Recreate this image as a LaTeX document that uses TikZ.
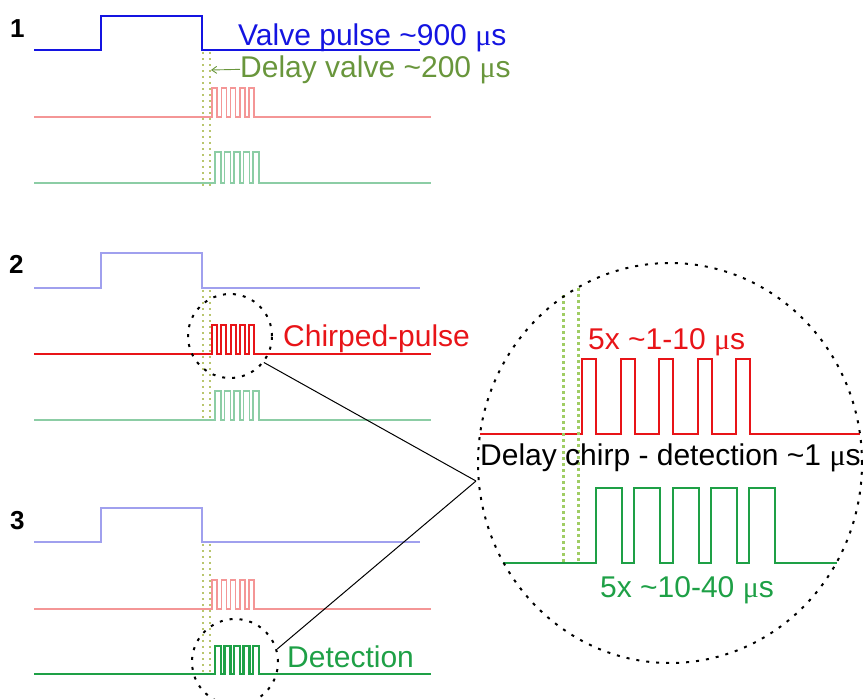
\documentclass[tikz,border=0pt]{standalone}
\usepackage{fontspec}
\setmainfont{Liberation Sans}
\newfontfamily\mufont{Liberation Serif}
\usetikzlibrary{shapes.geometric,arrows.meta}
\newcommand{\mus}{{\mufont μ}s}
\definecolor{cblue}{RGB}{20,20,225}
\definecolor{lblue}{RGB}{160,160,238}
\definecolor{cred}{RGB}{232,20,24}
\definecolor{lred}{RGB}{244,150,150}
\definecolor{cgreen}{RGB}{30,160,70}
\definecolor{lgreen}{RGB}{140,205,165}
\definecolor{colive}{RGB}{105,150,60}
\definecolor{sdot}{RGB}{185,198,110}
\definecolor{bdot}{RGB}{160,205,100}
% \wave[style]{x0}{ybase}{xstart}{height}{width}{gap}{xend}
\newcommand{\wave}[8][]{\draw[#1] (#2,#3) -- (#4,#3)
  \foreach \i in {1,...,5}{ -- ++(0,-#5) -- ++(#6,0) -- ++(0,#5) -- ++(#7,0)} -- (#8,#3);}
\tikzset{
  txt/.style={anchor=base west, inner sep=0pt, font=\fontsize{30}{32}\selectfont},
  numlab/.style={anchor=base west, inner sep=0pt, font=\fontsize{26}{28}\selectfont\bfseries},
  sblue/.style={draw=cblue, line width=2, line join=miter},
  fblue/.style={draw=lblue, line width=1.5},
  sred/.style={draw=cred, line width=2},
  fred/.style={draw=lred, line width=1.5},
  sgreen/.style={draw=cgreen, line width=2.5},
  fgreen/.style={draw=lgreen, line width=1.5},
  bred/.style={draw=cred, line width=2},
  bgreen/.style={draw=cgreen, line width=2},
  smalldots/.style={draw=sdot, line width=1.5, dash pattern=on 1.5pt off 4.5pt},
  bigdots/.style={draw=bdot, line width=3, dash pattern=on 3pt off 3pt},
  zoomc/.style={draw=black, line width=2, dash pattern=on 3pt off 7pt, inner sep=0pt},
  link/.style={draw=black, line width=1},
}
\begin{document}
\begin{tikzpicture}[x=1pt,y=-1pt]
\useasboundingbox (0,0) rectangle (863,699);
% ---------- section 1
\node[numlab] (n1) at (10,37) {1};
\draw[sblue] (34,50) -- (101,50) -- (101,16) -- (202,16) -- (202,50) -- (420,50);
\wave[fred]{34}{117}{212}{29}{5}{4.25}{431}
\wave[fgreen]{34}{183}{215}{31}{6}{3.5}{431}
\draw[smalldots] (203,52) -- (203,186);
\draw[smalldots] (210,52) -- (210,186);
\node[txt, text=cblue] (vp) at (238,45) {Valve pulse \textasciitilde900 \mus};
\node[txt, text=colive] (dv) at (240,77) {Delay valve \textasciitilde200 \mus};
\coordinate (dvtip) at (211,70);
\draw[draw=colive, line width=0.9, -{Straight Barb[length=5,width=7]}] (dv.west) -- (dvtip);
% ---------- section 2
\node[numlab] (n2) at (9,273) {2};
\draw[fblue] (34,288) -- (101,288) -- (101,253) -- (202,253) -- (202,288) -- (420,288);
\wave[sred]{34}{354}{212}{29}{5}{4.25}{431}
\wave[fgreen]{34}{420}{215}{29}{6}{3.5}{431}
\draw[smalldots] (203,290) -- (203,422);
\draw[smalldots] (210,290) -- (210,422);
\node[txt, text=cred] (cp) at (283,346) {Chirped-pulse};
\node[zoomc, circle, minimum size=84] (c2) at (230,336) {};
% ---------- section 3
\node[numlab] (n3) at (10,529) {3};
\draw[fblue] (34,542) -- (101,542) -- (101,508) -- (202,508) -- (202,542) -- (420,542);
\wave[fred]{34}{609}{212}{29}{5}{4.25}{431}
\wave[sgreen]{34}{674}{215}{28}{6}{3.5}{431}
\draw[smalldots] (203,544) -- (203,676);
\draw[smalldots] (210,544) -- (210,676);
\node[txt, text=cgreen] (det) at (287,667) {Detection};
\node[zoomc, circle, minimum size=86] (c3) at (235,662) {};
% ---------- zoom circle
\wave[bred]{480}{434}{582}{75}{14}{24.5}{860}
\wave[bgreen]{503}{563}{596}{75}{26}{12.3}{837}
\draw[bigdots] (563,295) -- (563,563);
\draw[bigdots] (578,288) -- (578,563);
\node[txt, text=cred] (t1) at (588,349) {5x \textasciitilde1-10 \mus};
\node[txt, text=black] (t2) at (480,465) {Delay chirp - detection \textasciitilde1 \mus};
\node[txt, text=cgreen] (t3) at (600,597) {5x \textasciitilde10-40 \mus};
\node[zoomc, ellipse, minimum width=384, minimum height=400] (cbig) at (670,463) {};
\coordinate (meet) at (476,481);
\draw[link] (c2.-38) -- (meet);
\draw[link] (c3.17) -- (meet);
\end{tikzpicture}
\end{document}
